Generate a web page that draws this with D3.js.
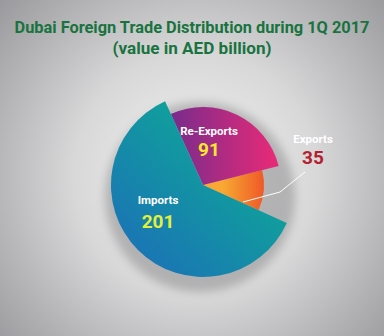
<!DOCTYPE html>
<html>
<head>
<meta charset="utf-8">
<script src="https://cdn.jsdelivr.net/npm/d3@7"></script>
<style>
  html, body { margin: 0; padding: 0; background: #fff; }
  svg { display: block; }
  text { font-family: Roboto, "Noto Sans", sans-serif; font-weight: bold; }
</style>
</head>
<body>
<div id="chart"></div>
<script>
'use strict';

// data
var categories = ['Imports', 'Re-Exports', 'Exports'];
var values = [201, 91, 35];
var titleLines = ['Dubai Foreign Trade Distribution during 1Q 2017', '(value in AED billion)'];

var width = 384, height = 336;
var cx = 203, cy = 185;

var svg = d3.select('#chart').append('svg')
  .attr('width', width)
  .attr('height', height);

var defs = svg.append('defs');

// background
var bg = defs.append('radialGradient').attr('id', 'bg')
  .attr('gradientUnits', 'userSpaceOnUse')
  .attr('cx', 195).attr('cy', 175).attr('r', 270);
bg.append('stop').attr('offset', '0%').attr('stop-color', '#f3f3f3');
bg.append('stop').attr('offset', '45%').attr('stop-color', '#d8d8d9');
bg.append('stop').attr('offset', '100%').attr('stop-color', '#96969a');

svg.append('rect').attr('width', width).attr('height', height).attr('fill', 'url(#bg)');

// slice gradients
function linGrad(id, x1, y1, x2, y2, c1, c2) {
  var g = defs.append('linearGradient').attr('id', id)
    .attr('gradientUnits', 'userSpaceOnUse')
    .attr('x1', x1).attr('y1', y1).attr('x2', x2).attr('y2', y2);
  g.append('stop').attr('offset', '0%').attr('stop-color', c1);
  g.append('stop').attr('offset', '100%').attr('stop-color', c2);
}
linGrad('g-imports', -85, 80, 30, -40, '#1c6fb8', '#0fa39a');
linGrad('g-reexports', -50, 0, 70, 0, '#652c90', '#e42a78');
linGrad('g-exports', 20, 0, 62, 0, '#f8a833', '#ee5726');

var fills = { 'Imports': 'url(#g-imports)', 'Re-Exports': 'url(#g-reexports)', 'Exports': 'url(#g-exports)' };
var radii = { 'Imports': 92, 'Re-Exports': 78, 'Exports': 61 };

var blur = defs.append('filter').attr('id', 'blur')
  .attr('x', '-30%').attr('y', '-30%').attr('width', '160%').attr('height', '160%');
blur.append('feGaussianBlur').attr('stdDeviation', 5);

// title
svg.selectAll('.title')
  .data(titleLines)
  .enter().append('text')
  .attr('class', 'title')
  .attr('x', 192)
  .attr('y', function(d, i){ return i === 0 ? 33 : 54; })
  .attr('text-anchor', 'middle')
  .attr('fill', '#18733f')
  .attr('font-size', 16)
  .attr('textLength', function(d, i){ return i === 0 ? 355 : 159; })
  .attr('lengthAdjust', 'spacingAndGlyphs')
  .text(function(d){ return d; });

var g = svg.append('g').attr('transform', 'translate(' + cx + ',' + cy + ')');

// drop shadow behind the pie
g.append('circle')
  .attr('cx', -3).attr('cy', 12).attr('r', 95)
  .attr('fill', '#8e8e90')
  .attr('opacity', 0.55)
  .attr('filter', 'url(#blur)');

var total = d3.sum(values);
var start = 5 * Math.PI / 4 - (values[0] / total) * Math.PI;

var pie = d3.pie().sort(null)
  .startAngle(start)
  .endAngle(start + 2 * Math.PI);

var slices = pie(values).map(function(s, i){ s.name = categories[i]; return s; });

var arc = d3.arc().innerRadius(0).outerRadius(function(d){ return radii[d.name]; });

// draw smaller slices first so the big one sits on top
g.selectAll('path.slice')
  .data(slices.slice().reverse())
  .enter().append('path')
  .attr('class', 'slice')
  .attr('d', arc)
  .attr('fill', function(d){ return fills[d.name]; });

// leader line for Exports
g.append('polyline')
  .attr('points', [[40, 17], [77, 7], [102, -13]].join(' '))
  .attr('fill', 'none')
  .attr('stroke', '#fff')
  .attr('stroke-width', 1);

var labelPos = {
  'Imports':    { x: -45, y: 19, numColor: '#e3f03a' },
  'Re-Exports': { x: 6,   y: -50, numColor: '#f6e92b' },
  'Exports':    { x: 110, y: -42, numColor: '#b3202f' }
};

var labels = g.selectAll('g.lbl')
  .data(slices)
  .enter().append('g')
  .attr('class', 'lbl')
  .attr('transform', function(d){ return 'translate(' + labelPos[d.name].x + ',' + labelPos[d.name].y + ')'; });

labels.append('text')
  .attr('text-anchor', 'middle')
  .attr('fill', '#fff')
  .attr('font-size', 11.5)
  .text(function(d){ return d.name; });

labels.append('text')
  .attr('text-anchor', 'middle')
  .attr('y', function(d){ return d.name === 'Imports' ? 24 : 21; })
  .attr('fill', function(d){ return labelPos[d.name].numColor; })
  .attr('font-size', 19)
  .text(function(d){ return d.data; });
</script>
</body>
</html>
